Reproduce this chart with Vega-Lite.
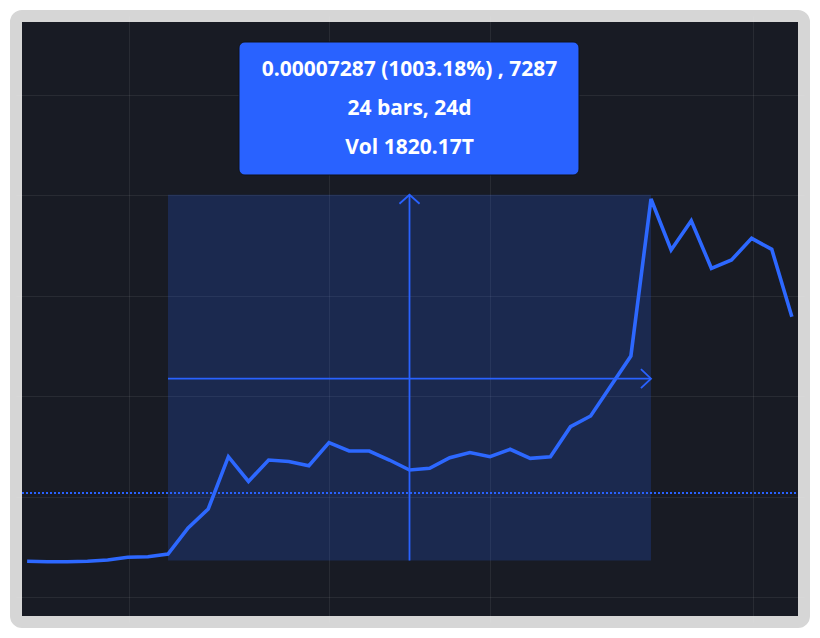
{
  "$schema": "https://vega.github.io/schema/vega-lite/v6.json",
  "width": 788,
  "height": 606,
  "padding": 16,
  "autosize": {"type": "none"},
  "background": "#ffffff",
  "config": {
    "view": {"fill": "#181b24", "stroke": "#d6d6d6", "strokeWidth": 12, "cornerRadius": 6},
    "axis": {"grid": true, "gridColor": "#ffffff", "gridOpacity": 0.07, "gridWidth": 1, "labels": false, "ticks": false, "domain": false, "title": null}
  },
  "datasets": {
    "prices": [
      {"bar": -7, "price": 0.00000711},
      {"bar": -6, "price": 0.00000703},
      {"bar": -5, "price": 0.00000703},
      {"bar": -4, "price": 0.00000711},
      {"bar": -3, "price": 0.00000737},
      {"bar": -2, "price": 0.00000791},
      {"bar": -1, "price": 0.00000803},
      {"bar": 0, "price": 0.00000857},
      {"bar": 1, "price": 0.000013745},
      {"bar": 2, "price": 0.00001753},
      {"bar": 3, "price": 0.00002795},
      {"bar": 4, "price": 0.00002301},
      {"bar": 5, "price": 0.00002729},
      {"bar": 6, "price": 0.00002699},
      {"bar": 7, "price": 0.00002616},
      {"bar": 8, "price": 0.00003074},
      {"bar": 9, "price": 0.00002908},
      {"bar": 10, "price": 0.00002908},
      {"bar": 11, "price": 0.00002729},
      {"bar": 12, "price": 0.0000253},
      {"bar": 13, "price": 0.00002564},
      {"bar": 14, "price": 0.00002775},
      {"bar": 15, "price": 0.00002879},
      {"bar": 16, "price": 0.00002795},
      {"bar": 17, "price": 0.00002942},
      {"bar": 18, "price": 0.00002763},
      {"bar": 19, "price": 0.00002795},
      {"bar": 20, "price": 0.00003392},
      {"bar": 21, "price": 0.00003606},
      {"bar": 22, "price": 0.00004203},
      {"bar": 23, "price": 0.00004801},
      {"bar": 24, "price": 0.00007928},
      {"bar": 25, "price": 0.00006912},
      {"bar": 26, "price": 0.00007496},
      {"bar": 27, "price": 0.00006548},
      {"bar": 28, "price": 0.00006713},
      {"bar": 29, "price": 0.00007145},
      {"bar": 30, "price": 0.00006926},
      {"bar": 31, "price": 0.00005584}
    ],
    "measure": [
      {"bar_start": 0, "bar_end": 24, "price_start": 0.000007264, "price_end": 0.000080134}
    ],
    "arrows": [
      {"part": "h_shaft", "seq": 1, "bar": 0, "price": 0.0000435},
      {"part": "h_shaft", "seq": 2, "bar": 24, "price": 0.0000435},
      {"part": "h_head", "seq": 1, "bar": 23.5, "price": 0.0000454},
      {"part": "h_head", "seq": 2, "bar": 24, "price": 0.0000435},
      {"part": "h_head", "seq": 3, "bar": 23.5, "price": 0.0000416},
      {"part": "v_shaft", "seq": 1, "bar": 12, "price": 0.000007264},
      {"part": "v_shaft", "seq": 2, "bar": 12, "price": 0.000080134},
      {"part": "v_head", "seq": 1, "bar": 11.5, "price": 0.000078334},
      {"part": "v_head", "seq": 2, "bar": 12, "price": 0.000080134},
      {"part": "v_head", "seq": 3, "bar": 12.5, "price": 0.000078334}
    ],
    "priceline": [
      {"price": 0.000020717, "bar_from": -7.255, "bar_to": 31.304}
    ],
    "labelbox": [
      {"bar_from": 3.528, "bar_to": 20.422, "price_low": 0.000084064, "price_high": 0.0001105577}
    ],
    "labeltext": [
      {"line": 1, "bar": 12, "price": 0.0001037848, "text": "0.00007287 (1003.18%) , 7287"},
      {"line": 2, "bar": 12, "price": 0.0000960158, "text": "24 bars, 24d"},
      {"line": 3, "bar": 12, "price": 0.0000883070, "text": "Vol 1820.17T"}
    ]
  },
  "layer": [
    {
      "data": {"name": "measure"},
      "mark": {"type": "rect", "fill": "#2962ff", "fillOpacity": 0.2},
      "encoding": {
        "x": {"field": "bar_start", "type": "quantitative", "scale": {"domain": [-7.5528, 31.6025], "nice": false, "zero": false}, "axis": {"values": [-1.94, 8, 16, 29.07]}},
        "x2": {"field": "bar_end"},
        "y": {"field": "price_start", "type": "quantitative", "scale": {"domain": [-0.00000498008, 0.000115737], "nice": false, "zero": false}, "axis": {"values": [0, 0.00002, 0.00004, 0.00006, 0.00008, 0.0001]}},
        "y2": {"field": "price_end"}
      }
    },
    {
      "data": {"name": "priceline"},
      "mark": {"type": "rule", "color": "#2962ff", "strokeWidth": 2, "strokeDash": [2, 2]},
      "encoding": {
        "x": {"field": "bar_from", "type": "quantitative"},
        "x2": {"field": "bar_to"},
        "y": {"field": "price", "type": "quantitative"}
      }
    },
    {
      "data": {"name": "prices"},
      "mark": {"type": "line", "color": "#2d68ff", "strokeWidth": 3.6},
      "encoding": {
        "x": {"field": "bar", "type": "quantitative"},
        "y": {"field": "price", "type": "quantitative"}
      }
    },
    {
      "data": {"name": "arrows"},
      "mark": {"type": "line", "color": "#2962ff", "strokeWidth": 1.8},
      "encoding": {
        "x": {"field": "bar", "type": "quantitative"},
        "y": {"field": "price", "type": "quantitative"},
        "detail": {"field": "part", "type": "nominal"},
        "order": {"field": "seq", "type": "quantitative"}
      }
    },
    {
      "data": {"name": "labelbox"},
      "mark": {"type": "rect", "fill": "#2962ff", "cornerRadius": 6, "stroke": "#10131a", "strokeWidth": 1},
      "encoding": {
        "x": {"field": "bar_from", "type": "quantitative"},
        "x2": {"field": "bar_to"},
        "y": {"field": "price_low", "type": "quantitative"},
        "y2": {"field": "price_high"}
      }
    },
    {
      "data": {"name": "labeltext"},
      "mark": {"type": "text", "color": "#ffffff", "font": "Open Sans", "fontWeight": "bold", "fontSize": 21, "align": "center", "baseline": "alphabetic"},
      "encoding": {
        "x": {"field": "bar", "type": "quantitative"},
        "y": {"field": "price", "type": "quantitative"},
        "text": {"field": "text", "type": "nominal"}
      }
    }
  ]
}
